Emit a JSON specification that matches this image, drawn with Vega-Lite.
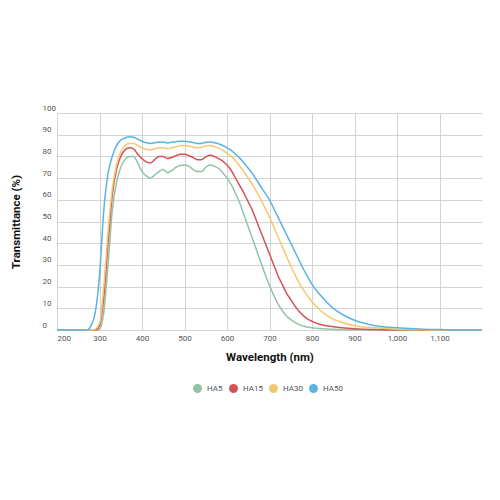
{
  "$schema": "https://vega.github.io/schema/vega-lite/v6.json",
  "width": 425,
  "height": 217,
  "autosize": {"type": "none"},
  "padding": {"left": 57, "top": 113, "right": 18, "bottom": 170},
  "background": "white",
  "config": {"view": {"stroke": null}, "font": "Roboto"},
  "data": {"values": [
    {"s":"HA5","wl":200,"t":0},{"s":"HA5","wl":290,"t":0},{"s":"HA5","wl":300,"t":0.5},{"s":"HA5","wl":310,"t":8},{"s":"HA5","wl":320,"t":30},{"s":"HA5","wl":330,"t":55},{"s":"HA5","wl":340,"t":68},{"s":"HA5","wl":350,"t":75},{"s":"HA5","wl":360,"t":78.5},{"s":"HA5","wl":370,"t":80},{"s":"HA5","wl":380,"t":80},{"s":"HA5","wl":390,"t":77},{"s":"HA5","wl":400,"t":73},{"s":"HA5","wl":410,"t":71},{"s":"HA5","wl":420,"t":70},{"s":"HA5","wl":430,"t":71.5},{"s":"HA5","wl":440,"t":73},{"s":"HA5","wl":450,"t":74},{"s":"HA5","wl":460,"t":72.5},{"s":"HA5","wl":470,"t":73.5},{"s":"HA5","wl":480,"t":75},{"s":"HA5","wl":490,"t":75.8},{"s":"HA5","wl":500,"t":76},{"s":"HA5","wl":510,"t":75.5},{"s":"HA5","wl":520,"t":74},{"s":"HA5","wl":530,"t":73},{"s":"HA5","wl":540,"t":73},{"s":"HA5","wl":550,"t":75},{"s":"HA5","wl":560,"t":76},{"s":"HA5","wl":570,"t":75.5},{"s":"HA5","wl":580,"t":74.5},{"s":"HA5","wl":590,"t":72.5},{"s":"HA5","wl":600,"t":70},{"s":"HA5","wl":610,"t":67},{"s":"HA5","wl":620,"t":63},{"s":"HA5","wl":630,"t":58.5},{"s":"HA5","wl":640,"t":53},{"s":"HA5","wl":650,"t":47.5},{"s":"HA5","wl":660,"t":42},{"s":"HA5","wl":670,"t":36.5},{"s":"HA5","wl":680,"t":31},{"s":"HA5","wl":690,"t":25.5},{"s":"HA5","wl":700,"t":20.5},{"s":"HA5","wl":710,"t":16},{"s":"HA5","wl":720,"t":12},{"s":"HA5","wl":730,"t":9},{"s":"HA5","wl":740,"t":6.5},{"s":"HA5","wl":750,"t":4.8},{"s":"HA5","wl":770,"t":2.5},{"s":"HA5","wl":800,"t":1},{"s":"HA5","wl":850,"t":0.3},{"s":"HA5","wl":900,"t":0.1},{"s":"HA5","wl":1000,"t":0},{"s":"HA5","wl":1200,"t":0},
    {"s":"HA15","wl":200,"t":0},{"s":"HA15","wl":290,"t":0},{"s":"HA15","wl":300,"t":2},{"s":"HA15","wl":310,"t":15},{"s":"HA15","wl":320,"t":40},{"s":"HA15","wl":330,"t":62},{"s":"HA15","wl":340,"t":74},{"s":"HA15","wl":350,"t":80},{"s":"HA15","wl":360,"t":83},{"s":"HA15","wl":370,"t":84},{"s":"HA15","wl":380,"t":83.5},{"s":"HA15","wl":390,"t":81},{"s":"HA15","wl":400,"t":79},{"s":"HA15","wl":410,"t":77.5},{"s":"HA15","wl":420,"t":77},{"s":"HA15","wl":430,"t":78.5},{"s":"HA15","wl":440,"t":80},{"s":"HA15","wl":450,"t":80},{"s":"HA15","wl":460,"t":79},{"s":"HA15","wl":470,"t":79.5},{"s":"HA15","wl":480,"t":80.3},{"s":"HA15","wl":490,"t":81},{"s":"HA15","wl":500,"t":81},{"s":"HA15","wl":510,"t":80.3},{"s":"HA15","wl":520,"t":79.5},{"s":"HA15","wl":530,"t":78.5},{"s":"HA15","wl":540,"t":78.5},{"s":"HA15","wl":550,"t":79.8},{"s":"HA15","wl":560,"t":80.5},{"s":"HA15","wl":570,"t":80},{"s":"HA15","wl":580,"t":79},{"s":"HA15","wl":590,"t":77.8},{"s":"HA15","wl":600,"t":76},{"s":"HA15","wl":610,"t":73.5},{"s":"HA15","wl":620,"t":70},{"s":"HA15","wl":630,"t":66.5},{"s":"HA15","wl":640,"t":63},{"s":"HA15","wl":650,"t":59},{"s":"HA15","wl":660,"t":55},{"s":"HA15","wl":670,"t":50},{"s":"HA15","wl":680,"t":45},{"s":"HA15","wl":690,"t":40},{"s":"HA15","wl":700,"t":35},{"s":"HA15","wl":710,"t":30},{"s":"HA15","wl":720,"t":25},{"s":"HA15","wl":730,"t":21},{"s":"HA15","wl":740,"t":17},{"s":"HA15","wl":750,"t":14},{"s":"HA15","wl":760,"t":11},{"s":"HA15","wl":770,"t":8.5},{"s":"HA15","wl":780,"t":6.5},{"s":"HA15","wl":790,"t":5},{"s":"HA15","wl":800,"t":4},{"s":"HA15","wl":820,"t":2.5},{"s":"HA15","wl":850,"t":1.5},{"s":"HA15","wl":900,"t":0.6},{"s":"HA15","wl":950,"t":0.2},{"s":"HA15","wl":1000,"t":0},{"s":"HA15","wl":1200,"t":0},
    {"s":"HA30","wl":200,"t":0},{"s":"HA30","wl":285,"t":0},{"s":"HA30","wl":300,"t":3},{"s":"HA30","wl":310,"t":20},{"s":"HA30","wl":320,"t":45},{"s":"HA30","wl":330,"t":65},{"s":"HA30","wl":340,"t":76},{"s":"HA30","wl":350,"t":82},{"s":"HA30","wl":360,"t":85},{"s":"HA30","wl":370,"t":86},{"s":"HA30","wl":380,"t":86},{"s":"HA30","wl":390,"t":85},{"s":"HA30","wl":400,"t":84},{"s":"HA30","wl":410,"t":83.3},{"s":"HA30","wl":420,"t":83},{"s":"HA30","wl":430,"t":83.5},{"s":"HA30","wl":440,"t":84},{"s":"HA30","wl":450,"t":84},{"s":"HA30","wl":460,"t":83.5},{"s":"HA30","wl":470,"t":84},{"s":"HA30","wl":480,"t":84.5},{"s":"HA30","wl":490,"t":85},{"s":"HA30","wl":500,"t":85},{"s":"HA30","wl":510,"t":84.8},{"s":"HA30","wl":520,"t":84.3},{"s":"HA30","wl":530,"t":84},{"s":"HA30","wl":540,"t":84.2},{"s":"HA30","wl":550,"t":84.8},{"s":"HA30","wl":560,"t":85},{"s":"HA30","wl":570,"t":84.6},{"s":"HA30","wl":580,"t":83.8},{"s":"HA30","wl":590,"t":82.8},{"s":"HA30","wl":600,"t":81.5},{"s":"HA30","wl":610,"t":80},{"s":"HA30","wl":620,"t":78},{"s":"HA30","wl":630,"t":75.5},{"s":"HA30","wl":640,"t":73},{"s":"HA30","wl":650,"t":70},{"s":"HA30","wl":660,"t":67},{"s":"HA30","wl":670,"t":63.5},{"s":"HA30","wl":680,"t":60},{"s":"HA30","wl":690,"t":56},{"s":"HA30","wl":700,"t":52},{"s":"HA30","wl":710,"t":47.5},{"s":"HA30","wl":720,"t":43},{"s":"HA30","wl":730,"t":38.5},{"s":"HA30","wl":740,"t":34},{"s":"HA30","wl":750,"t":29.5},{"s":"HA30","wl":760,"t":25.5},{"s":"HA30","wl":770,"t":21.5},{"s":"HA30","wl":780,"t":18.5},{"s":"HA30","wl":790,"t":15.5},{"s":"HA30","wl":800,"t":13},{"s":"HA30","wl":820,"t":9},{"s":"HA30","wl":850,"t":5},{"s":"HA30","wl":875,"t":3.2},{"s":"HA30","wl":900,"t":2},{"s":"HA30","wl":950,"t":1},{"s":"HA30","wl":1000,"t":0.4},{"s":"HA30","wl":1050,"t":0.1},{"s":"HA30","wl":1100,"t":0},{"s":"HA30","wl":1200,"t":0},
    {"s":"HA50","wl":200,"t":0},{"s":"HA50","wl":270,"t":0},{"s":"HA50","wl":280,"t":2},{"s":"HA50","wl":290,"t":8},{"s":"HA50","wl":300,"t":25},{"s":"HA50","wl":310,"t":55},{"s":"HA50","wl":320,"t":72},{"s":"HA50","wl":330,"t":80},{"s":"HA50","wl":340,"t":85},{"s":"HA50","wl":350,"t":87.5},{"s":"HA50","wl":360,"t":88.5},{"s":"HA50","wl":370,"t":89},{"s":"HA50","wl":380,"t":88.8},{"s":"HA50","wl":390,"t":88},{"s":"HA50","wl":400,"t":87},{"s":"HA50","wl":410,"t":86.3},{"s":"HA50","wl":420,"t":86},{"s":"HA50","wl":430,"t":86.3},{"s":"HA50","wl":440,"t":86.6},{"s":"HA50","wl":450,"t":86.5},{"s":"HA50","wl":460,"t":86.2},{"s":"HA50","wl":470,"t":86.5},{"s":"HA50","wl":480,"t":86.8},{"s":"HA50","wl":490,"t":87},{"s":"HA50","wl":500,"t":87},{"s":"HA50","wl":510,"t":86.8},{"s":"HA50","wl":520,"t":86.4},{"s":"HA50","wl":530,"t":86},{"s":"HA50","wl":540,"t":86},{"s":"HA50","wl":550,"t":86.5},{"s":"HA50","wl":560,"t":86.6},{"s":"HA50","wl":570,"t":86.3},{"s":"HA50","wl":580,"t":85.8},{"s":"HA50","wl":590,"t":85},{"s":"HA50","wl":600,"t":84},{"s":"HA50","wl":610,"t":82.8},{"s":"HA50","wl":620,"t":81},{"s":"HA50","wl":630,"t":79.2},{"s":"HA50","wl":640,"t":77},{"s":"HA50","wl":650,"t":74.5},{"s":"HA50","wl":660,"t":72},{"s":"HA50","wl":670,"t":69},{"s":"HA50","wl":680,"t":66},{"s":"HA50","wl":690,"t":63},{"s":"HA50","wl":700,"t":60},{"s":"HA50","wl":710,"t":56},{"s":"HA50","wl":720,"t":52},{"s":"HA50","wl":730,"t":48},{"s":"HA50","wl":740,"t":44},{"s":"HA50","wl":750,"t":40},{"s":"HA50","wl":760,"t":36},{"s":"HA50","wl":770,"t":32},{"s":"HA50","wl":780,"t":28},{"s":"HA50","wl":790,"t":24.5},{"s":"HA50","wl":800,"t":21},{"s":"HA50","wl":820,"t":16},{"s":"HA50","wl":850,"t":10},{"s":"HA50","wl":875,"t":6.8},{"s":"HA50","wl":900,"t":4.5},{"s":"HA50","wl":950,"t":2},{"s":"HA50","wl":1000,"t":1},{"s":"HA50","wl":1050,"t":0.5},{"s":"HA50","wl":1100,"t":0.2},{"s":"HA50","wl":1150,"t":0},{"s":"HA50","wl":1200,"t":0}
  ]},
  "mark": {"type": "line", "strokeWidth": 1.5, "interpolate": "monotone"},
  "encoding": {
    "x": {
      "field": "wl", "type": "quantitative",
      "scale": {"domain": [200, 1200], "nice": false, "zero": false},
      "axis": {
        "title": "Wavelength (nm)", "values": [200,300,400,500,600,700,800,900,1000,1100],
        "format": ",d", "grid": true, "gridColor": "#c8c8c8", "gridWidth": 0.8,
        "domain": false, "ticks": false, "labelPadding": 4,
        "labelFont": "Roboto", "labelFontSize": 8, "labelColor": "#555555",
        "titleFont": "Roboto", "titleFontSize": 11.5, "titleFontWeight": "bold", "titleColor": "#111111",
        "titlePadding": 9
      }
    },
    "y": {
      "field": "t", "type": "quantitative",
      "scale": {"domain": [0, 100], "nice": false},
      "axis": {
        "title": "Transmittance (%)", "values": [0,10,20,30,40,50,60,70,80,90,100],
        "grid": true, "gridColor": "#c8c8c8", "gridWidth": 0.8,
        "domain": false, "ticks": false,
        "labelAlign": "left", "labelBaseline": "bottom", "labelPadding": 15, "labelOffset": -1,
        "labelFont": "Roboto", "labelFontSize": 8, "labelColor": "#555555",
        "titleFont": "Roboto", "titleFontSize": 11.5, "titleFontWeight": "bold", "titleColor": "#111111",
        "titlePadding": 21
      }
    },
    "color": {
      "field": "s", "type": "nominal",
      "scale": {"domain": ["HA5","HA15","HA30","HA50"], "range": ["#8fc4a6","#d65256","#f2c96e","#5ab4e2"]},
      "legend": {
        "title": null, "orient": "none", "direction": "horizontal",
        "legendX": 136, "legendY": 271,
        "symbolType": "circle", "symbolSize": 80, "symbolStrokeWidth": 0,
        "labelFont": "Roboto", "labelFontSize": 8, "labelColor": "#555555",
        "columnPadding": 6, "labelOffset": 5,
        "encode": {"symbols": {"update": {"fill": {"scale": "color", "field": "value"}, "strokeWidth": {"value": 0}}}}
      }
    }
  }
}
